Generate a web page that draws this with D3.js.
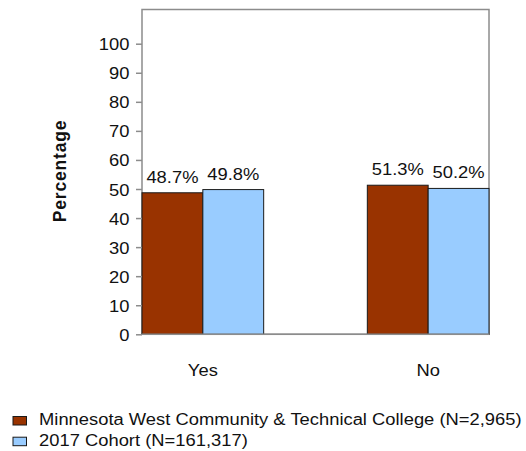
<!doctype html>
<html lang="en">
<head>
  <meta charset="utf-8">
  <title>bar chart</title>
  <style>
    * { margin: 0; padding: 0; box-sizing: border-box; }
    body { background: #fff; }
    svg { display: block; font-family: "Liberation Sans", Arial, sans-serif; }
  </style>
</head>
<body>
  <div class="chart"></div>
  <script src="https://cdn.jsdelivr.net/npm/d3@7"></script>
  <script>
    // ---------------------------------------------------------------
    //@@ data
    const categories = ['Yes', 'No'];
    const seriesNames = ['Minnesota West Community & Technical College (N=2,965)', '2017 Cohort (N=161,317)'];
    const collegeValues = [48.7, 51.3];
    const cohortValues = [49.8, 50.2];
    const yTicks = [0, 10, 20, 30, 40, 50, 60, 70, 80, 90, 100];
    const colors = ['#993300', '#99ccff'];

    const data = categories.map((c, i) => ({
      name: c,
      values: [collegeValues[i], cohortValues[i]]
    }));

    //@@ svg configuration
    const svgDim = {w: 526, h: 451};
    const plot = {l: 142, r: 489, t: 9.5, b: 334.3};
    const sx = 1.12; // text is a bit wide in the reference

    const svg = d3.select('.chart').append('svg')
      .attr('width', svgDim.w)
      .attr('height', svgDim.h);

    //@@ scales
    const scaleX = d3.scaleBand().domain(categories)
      .range([plot.l, plot.r]).paddingInner(0.46).paddingOuter(0);
    const scaleSeries = d3.scaleBand().domain([0, 1])
      .range([0, scaleX.bandwidth()]);
    const scaleY = d3.scaleLinear().domain([0, 100]).range([plot.b, plot.b - 290.6]);

    // stretched text helper
    function txt(g, x, y, s) {
      return g.append('text')
        .attr('transform', `translate(${x},${y}) scale(${sx},1)`)
        .style('font-size', '16.4px')
        .attr('fill', '#111')
        .text(s);
    }

    //@@ frame
    svg.append('rect')
      .attr('x', plot.l).attr('y', plot.t)
      .attr('width', plot.r - plot.l).attr('height', plot.b - plot.t)
      .attr('fill', 'none').attr('stroke', '#8c8c8c').attr('stroke-width', 1.5);

    //@@ bars
    const groups = svg.append('g').selectAll('g')
      .data(data).enter().append('g')
      .attr('transform', d => `translate(${scaleX(d.name)},0)`);

    groups.selectAll('rect')
      .data(d => d.values)
      .enter().append('rect')
      .attr('x', (v, i) => scaleSeries(i))
      .attr('y', v => scaleY(v))
      .attr('width', scaleSeries.bandwidth())
      .attr('height', v => plot.b - scaleY(v))
      .attr('fill', (v, i) => colors[i])
      .attr('stroke', '#1a1a1a').attr('stroke-width', 1);

    //@@ value labels
    groups.each(function(d) {
      const g = d3.select(this);
      d.values.forEach((v, i) => {
        txt(g, scaleSeries(i) + scaleSeries.bandwidth() / 2, scaleY(v) - 10, v.toFixed(1) + '%')
          .attr('text-anchor', 'middle');
      });
    });

    //@@ axis Y
    const axisY = d3.axisLeft(scaleY).tickValues(yTicks).tickSize(6).tickSizeOuter(0);
    const areaAxisY = svg.append('g')
      .attr('transform', `translate(${plot.l},0)`)
      .call(axisY);
    areaAxisY.select('.domain').remove();
    areaAxisY.selectAll('line').attr('stroke', '#8c8c8c').attr('stroke-width', 1.5);
    areaAxisY.selectAll('text').remove();
    areaAxisY.selectAll('.tick').each(function(t) {
      txt(d3.select(this), -12.5, 6, t).attr('text-anchor', 'end');
    });

    //@@ axis X line
    svg.append('line')
      .attr('x1', plot.l).attr('x2', plot.r)
      .attr('y1', plot.b).attr('y2', plot.b)
      .attr('stroke', '#8c8c8c').attr('stroke-width', 1.5);

    //@@ category labels
    categories.forEach(c => {
      txt(svg, scaleX(c) + scaleX.bandwidth() / 2, 376, c).attr('text-anchor', 'middle');
    });

    //@@ y title
    svg.append('text')
      .attr('transform', 'translate(66,171) rotate(-90)')
      .attr('text-anchor', 'middle')
      .style('font-size', '17.5px')
      .style('font-weight', 'bold')
      .style('letter-spacing', '0.8px')
      .attr('fill', '#111')
      .text('Percentage');

    //@@ legend
    const legend = svg.append('g');
    seriesNames.forEach((s, i) => {
      const y = 425 + i * 20.7;
      legend.append('rect')
        .attr('x', 13).attr('y', y - 8.5)
        .attr('width', 13.5).attr('height', 8.5)
        .attr('fill', colors[i]).attr('stroke', '#1a1a1a').attr('stroke-width', 1);
      txt(legend, 39, y, s);
    });
  </script>
</body>
</html>
